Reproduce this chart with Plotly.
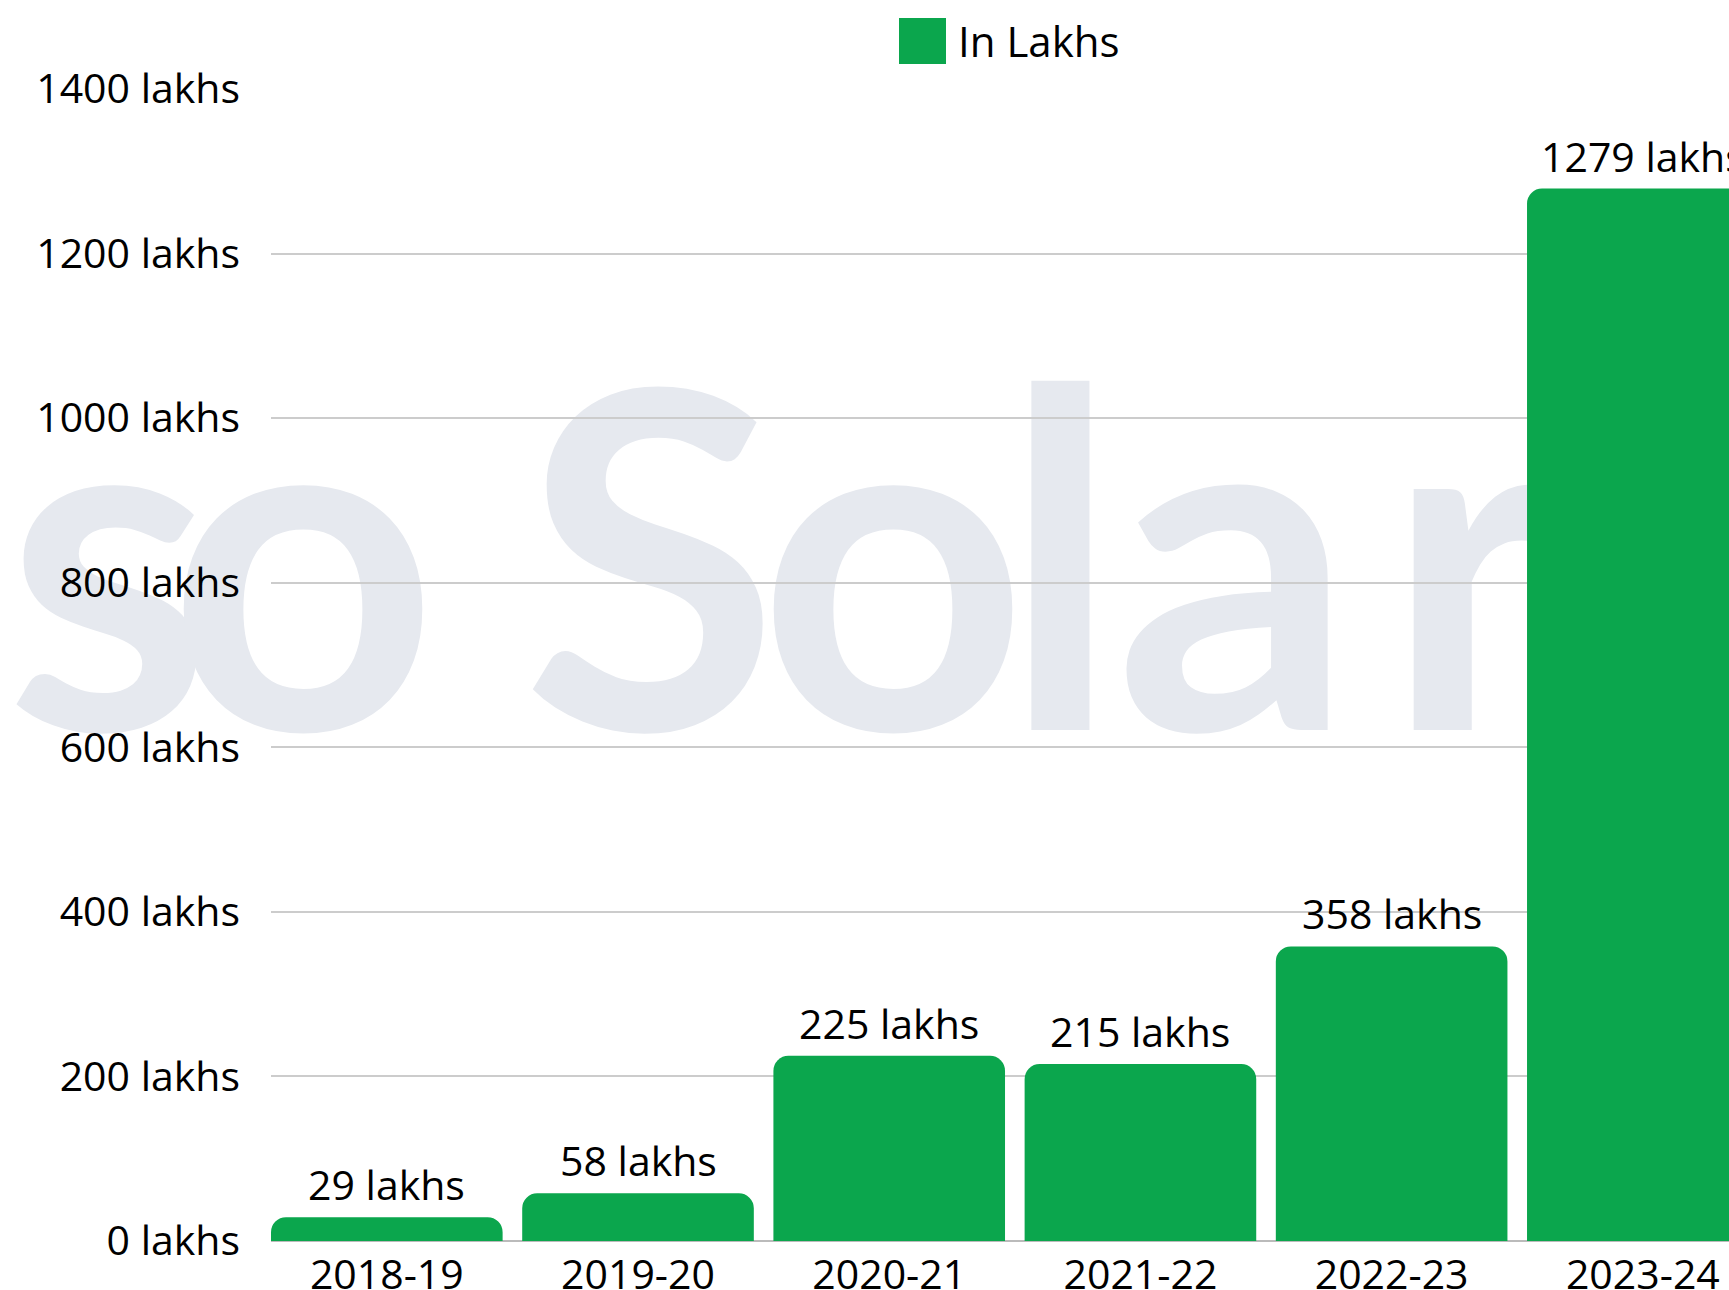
import base64
import plotly.graph_objects as go

categories = ["2018-19", "2019-20", "2020-21", "2021-22", "2022-23", "2023-24"]
values = [29, 58, 225, 215, 358, 1279]
value_labels = ["29 lakhs", "58 lakhs", "225 lakhs", "215 lakhs", "358 lakhs", "1279 lakhs"]
y_ticks = [0, 200, 400, 600, 800, 1000, 1200, 1400]
y_tick_labels = ["0 lakhs", "200 lakhs", "400 lakhs", "600 lakhs", "800 lakhs",
                 "1000 lakhs", "1200 lakhs", "1400 lakhs"]
series_name = "In Lakhs"
watermark = "soSolar"

W, H = 1729, 1290
ML, MR, MT, MB = 271, 0, 89, 49
PW, PH = W - ML - MR, H - MT - MB
GREEN = "#0BA64D"
FONT = "Open Sans"
FS = 41


def px_x(p):
    return (p - ML) / PW


def px_y(p):
    return (H - MB - p) / PH


fig = go.Figure()
fig.add_trace(go.Bar(
    x=categories, y=values, name=series_name,
    marker=dict(color=GREEN, line=dict(width=0), cornerradius=15),
    showlegend=False,
))

for c, v, t in zip(categories, values, value_labels):
    fig.add_annotation(x=c, y=v, text=t, showarrow=False, yanchor="bottom",
                       xanchor="center", yshift=3,
                       font=dict(family=FONT, size=FS, color="#000"))

# legend (drawn manually for the large swatch)
fig.add_shape(type="rect", xref="paper", yref="paper",
              x0=px_x(899), x1=px_x(946), y0=px_y(64), y1=px_y(18),
              fillcolor=GREEN, line=dict(width=0))
fig.add_annotation(xref="paper", yref="paper", x=px_x(956), y=px_y(41),
                   text=series_name, showarrow=False, xanchor="left",
                   yanchor="middle", font=dict(family=FONT, size=42, color="#000"))

# watermark
svg = (
    f'<svg xmlns="http://www.w3.org/2000/svg" width="{W}" height="{H}" viewBox="0 0 {W} {H}">'
    f'<text x="5 168 522 758 1002 1115 1385" y="730" font-family="Lato" font-weight="700" '
    f'font-size="470" fill="#e6e9ef">{watermark}</text></svg>'
)
uri = "data:image/svg+xml;base64," + base64.b64encode(svg.encode()).decode()
fig.add_layout_image(source=uri, xref="paper", yref="paper",
                     x=px_x(0), y=px_y(0), sizex=W / PW, sizey=H / PH,
                     xanchor="left", yanchor="top", sizing="stretch", layer="below")

fig.update_layout(
    width=W, height=H,
    margin=dict(l=ML, r=MR, t=MT, b=MB, pad=0),
    paper_bgcolor="white", plot_bgcolor="rgba(0,0,0,0)",
    bargap=0.078,
    font=dict(family=FONT, size=FS, color="#000"),
)
fig.update_xaxes(range=[-0.461, 5.343], showgrid=False, showline=False,
                 automargin=False,
                 tickfont=dict(family=FONT, size=FS, color="#000"),
                 ticklabelstandoff=6)
fig.update_yaxes(range=[0, 1400], tickmode="array", tickvals=y_ticks,
                 ticktext=y_tick_labels, automargin=False,
                 showgrid=True, gridcolor="#cccccc", gridwidth=1.5,
                 zeroline=True, zerolinecolor="#bbbbbb", zerolinewidth=1.5,
                 showline=False,
                 tickfont=dict(family=FONT, size=FS, color="#000"),
                 ticklabelstandoff=30)

fig.write_html("out.html", config={"displayModeBar": False},
               post_script="document.body.style.margin='0';")
